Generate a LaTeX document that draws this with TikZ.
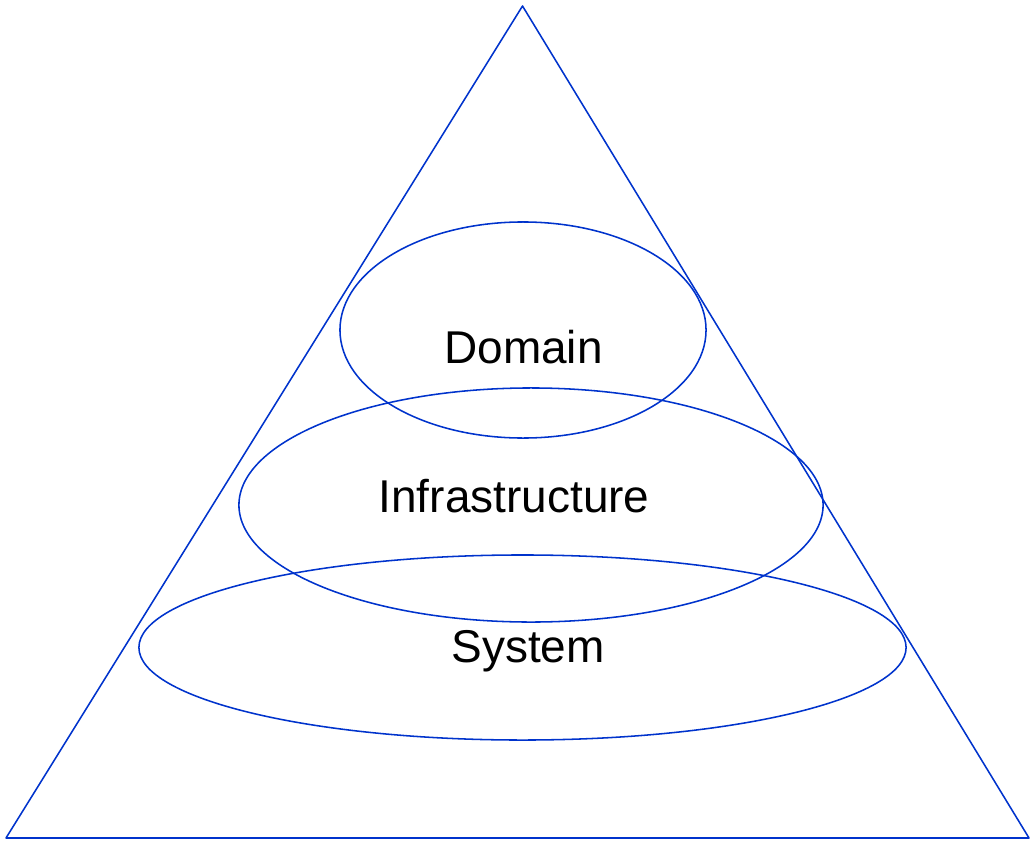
\documentclass[tikz,border=0pt]{standalone}
\usepackage{fontspec}
\setmainfont{Liberation Sans}
\usetikzlibrary{shapes.geometric}
\definecolor{lineblue}{RGB}{0,51,204}

\begin{document}
\begin{tikzpicture}[x=0.025cm, y=-0.025cm,
  layer/.style={ellipse, draw=lineblue, line width=1.1pt, inner sep=0pt},
  label/.style={anchor=base, font=\fontsize{32.7}{39}\selectfont}]

\useasboundingbox (0,0) rectangle (1030,840);

\coordinate (apex) at (522.5,6);
\coordinate (bl) at (6,838);
\coordinate (br) at (1029,838);

\draw[lineblue, line width=1.1pt, line join=round] (apex) -- (bl) -- (br) -- cycle;

\node[layer, minimum width=9.15cm, minimum height=5.4cm] at (523,330) (domain) {};
\node[layer, minimum width=14.6cm, minimum height=5.85cm] at (531,505) (infra) {};
\node[layer, minimum width=19.175cm, minimum height=4.625cm] at (522.5,647.5) (system) {};

\node[label] at (523.5,363) (domaintxt) {Domain};
\node[label] at (514,512) (infratxt) {Infrastructure};
\node[label] at (528,662) (systemtxt) {System};
\end{tikzpicture}
\end{document}
